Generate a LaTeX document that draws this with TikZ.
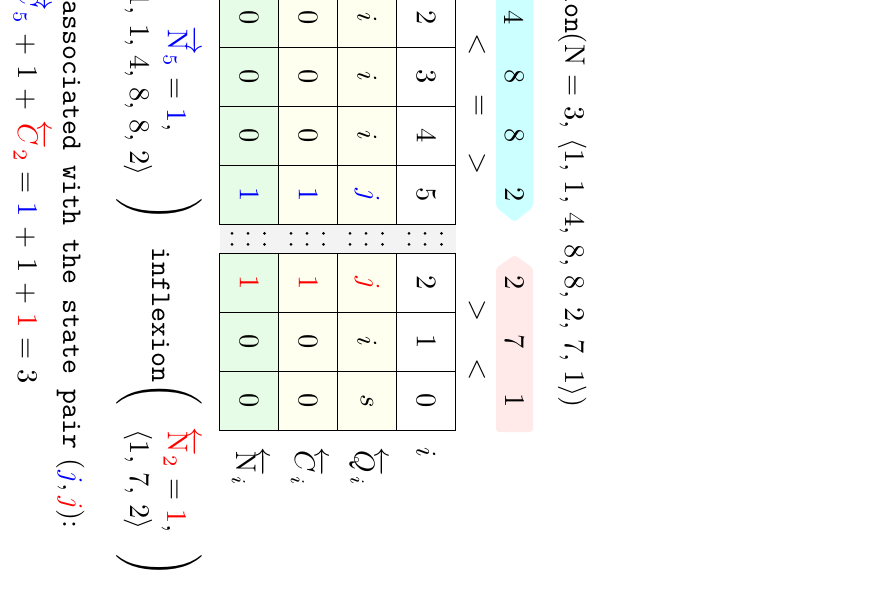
\RequirePackage{fix-cm}
\documentclass[tikz,border=0pt]{standalone}
\usepackage{amsmath}
\definecolor{cyanband}{HTML}{CCFFFF}
\definecolor{pinkband}{HTML}{FFE9E9}
\definecolor{ncol}{HTML}{E6FCE6}
\definecolor{ycol}{HTML}{FFFFF0}
\definecolor{gapgray}{HTML}{F3F3F3}
\tikzset{
  rot/.style={font=\normalsize, rotate=-90, scale=2.85, inner sep=0pt},
  cell/.style={rot, draw=black, line width=0.8pt, minimum width=20.7pt, minimum height=20.7pt},
  dotmark/.style={fill=black},
}
\begin{document}
\begin{tikzpicture}[x=1pt,y=-1pt]
\useasboundingbox (0,0) rectangle (879,602);
\clip (0,0) rectangle (879,602);
% gap band
\fill[gapgray] (219.5,224.3) rectangle (455.5,253.3);
\foreach \cx in {249,308,367,426}
  \foreach \dx in {-17,-1,15.5}
    \foreach \yy in {233.3,244.3}
      \fill[dotmark] (\cx+\dx,\yy) circle (1.5pt);
% table cells
\foreach \k/\y/\iv/\q/\c/\n in {
  1/17.8/2/{i}/{0}/{0},
  2/76.8/3/{i}/{0}/{0},
  3/135.8/4/{i}/{0}/{0},
  4/194.8/5/{\color{blue}j}/{\color{blue}1}/{\color{blue}1},
  5/282.8/2/{\color{red}j}/{\color{red}1}/{\color{red}1},
  6/341.8/1/{i}/{0}/{0},
  7/400.8/0/{s}/{0}/{0}}{
  \node[cell, fill=ncol] (n\k) at (249,\y) {$\n$};
  \node[cell, fill=ycol] (c\k) at (308,\y) {$\c$};
  \node[cell, fill=ycol] (q\k) at (367,\y) {$\q$};
  \node[cell, fill=white] (i\k) at (426,\y) {$\iv$};
}
% row labels
\node[rot, anchor=west] (li) at (426,447) {$i$};
\node[rot, anchor=west] (lq) at (367,447) {$\overleftarrow{Q}_i$};
\node[rot, anchor=west] (lc) at (308,447) {$\overleftarrow{C}_i$};
\node[rot, anchor=west] (ln) at (249,447) {$\overleftarrow{\mathrm{N}}_i$};
% comparisons
\node[rot] (r1) at (477,45) {$<$};
\node[rot] (r2) at (477,106) {$=$};
\node[rot] (r3) at (477,164) {$>$};
\node[rot] (r4) at (477,311) {$>$};
\node[rot] (r5) at (477,370) {$<$};
% bands
\fill[cyanband, rounded corners=3pt] (496,-20) -- (533,-20) -- (533,207) -- (514.5,222) -- (496,207) -- cycle;
\fill[pinkband, rounded corners=3pt] (514.5,255) -- (533,268) -- (533,432) -- (496,432) -- (496,268) -- cycle;
\node[rot] (b1) at (514.5,17.8) {4};
\node[rot] (b2) at (514.5,76.8) {8};
\node[rot] (b3) at (514.5,135.8) {8};
\node[rot] (b4) at (514.5,194.8) {2};
\node[rot] (p1) at (514.5,282.8) {2};
\node[rot] (p2) at (514.5,341.8) {7};
\node[rot] (p3) at (514.5,400.8) {1};
% title
\node[rot, anchor=base east] (title) at (565,408)
  {\texttt{inflexion}(N = 3, $\langle$1, 1, 4, 8, 8, 2, 7, 1$\rangle$)};
% groups
\node[rot, anchor=base east] (g1) at (152,222)
  {\texttt{inflexion}$\left(\begin{array}{@{\hspace{8pt}}c@{\hspace{8pt}}}
     \text{\textcolor{blue}{$\overrightarrow{\mathrm{N}}_5$} = \textcolor{blue}{1},} \\[1pt]
     \text{$\langle$1, 1, 4, 8, 8, 2$\rangle$} \end{array}\right)$};
\node[rot, anchor=base east] (g2) at (152,578)
  {\texttt{inflexion}$\left(\begin{array}{@{\hspace{8pt}}c@{\hspace{8pt}}}
     \text{\textcolor{red}{$\overleftarrow{\mathrm{N}}_2$} = \textcolor{red}{1},} \\[1pt]
     \text{$\langle$1, 7, 2$\rangle$} \end{array}\right)$};
% text lines
\node[rot, anchor=base west] (assoc) at (63,0)
  {\texttt{associated with the state pair} $(\textcolor{blue}{j}, \textcolor{red}{j})$:};
\node[rot, anchor=base east] (sum) at (18,384)
  {\textcolor{blue}{$\overrightarrow{C}_5$} + 1 + \textcolor{red}{$\overleftarrow{C}_2$} = \textcolor{blue}{1} + 1 + \textcolor{red}{1} = 3};
\end{tikzpicture}
\end{document}
